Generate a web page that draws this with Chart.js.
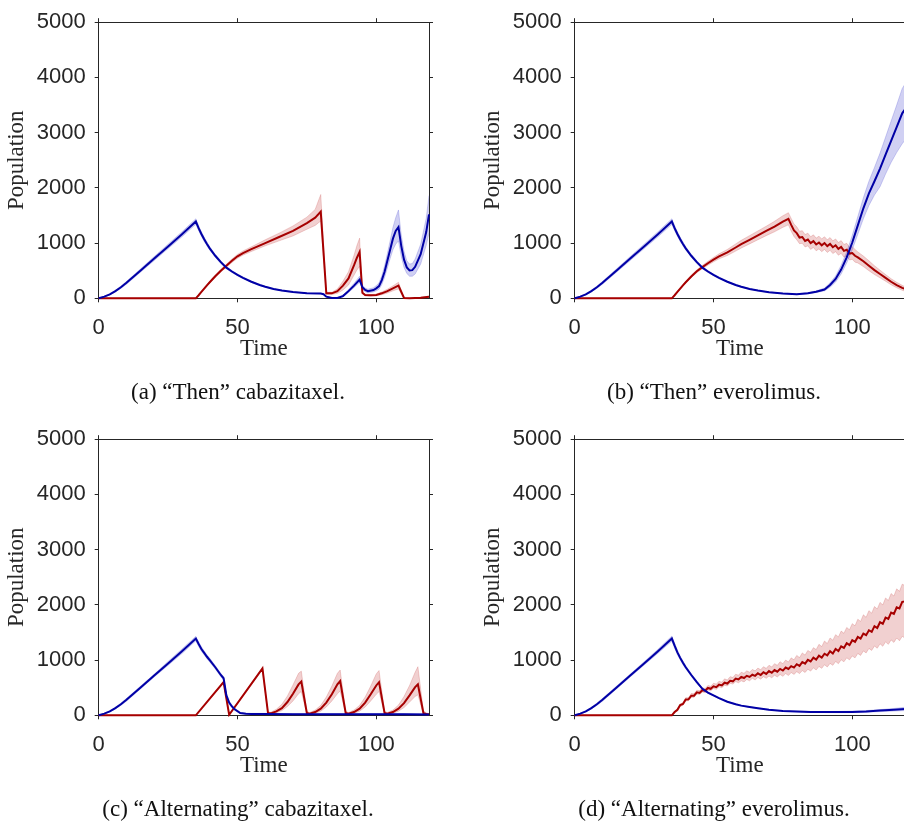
<!DOCTYPE html>
<html lang="en">
<head>
<meta charset="UTF-8">
<title>Population under cabazitaxel / everolimus schedules</title>
<script src="https://cdn.jsdelivr.net/npm/chart.js"></script>
<style>
  html, body { margin: 0; padding: 0; background: #fff; }
  body { width: 904px; height: 822px; overflow: hidden; position: relative; }
  canvas { position: absolute; }
</style>
</head>
<body>
<canvas id="panelA" width="476" height="417" style="left:0px;top:0px"></canvas>
<canvas id="panelB" width="476" height="417" style="left:476px;top:0px"></canvas>
<canvas id="panelC" width="476" height="417" style="left:0px;top:417px"></canvas>
<canvas id="panelD" width="476" height="417" style="left:476px;top:417px"></canvas>

<script>
// tick labels
const xTicks = [0, 50, 100];
const yTicks = [0, 1000, 2000, 3000, 4000, 5000];

const captions = [
  '(a) \u201CThen\u201D cabazitaxel.',
  '(b) \u201CThen\u201D everolimus.',
  '(c) \u201CAlternating\u201D cabazitaxel.',
  '(d) \u201CAlternating\u201D everolimus.'
];

// (a) "Then" cabazitaxel
const tBlueA = [0,2,4,6,8,10,15,20,25,30,35,36,37,38,39,40,42,44,46,48,50,52,55,58,60,63,66,70,75,80,81,82,84,86,88,90,92,94,95,96,97,99,100,101,102,103,104,105,106,107,108,109,110,111,112,113,114,116,118,119];
const blueA = [0,30,70,130,200,280,500,720,940,1160,1390,1270,1165,1070,985,905,770,655,555,485,425,370,300,240,210,170,140,112,92,85,75,30,5,5,40,130,230,340,200,150,130,150,180,220,330,480,680,880,1080,1220,1290,950,700,560,505,510,570,800,1200,1520];
const blueLoA = [0,25,60,115,180,255,470,685,900,1115,1340,1225,1125,1030,950,875,745,630,535,467,410,357,290,232,202,164,135,107,88,78,68,20,0,0,25,105,195,290,165,120,100,115,135,165,250,380,550,720,880,980,1040,760,560,450,400,400,440,620,960,1180];
const blueHiA = [0,35,80,145,220,305,530,755,980,1205,1440,1315,1205,1110,1020,935,795,680,575,503,440,383,310,248,218,176,145,117,96,92,82,40,15,15,60,160,270,400,240,185,165,190,230,280,410,590,810,1040,1280,1460,1600,1150,850,680,620,630,710,980,1450,1860];
const tRedA = [0,35,36,37,38,39,40,42,44,46,48,50,52,55,60,65,70,75,78,80,82,84,86,88,90,92,93,94,95,96,98,100,102,104,106,108,110,112,116,119];
const redA = [0,0,55,115,175,235,290,400,500,590,680,760,820,890,1000,1110,1220,1360,1460,1570,90,90,130,230,360,600,730,840,100,60,55,60,90,130,180,230,5,0,10,30];
const redLoA = [0,0,48,105,162,220,272,378,475,562,648,725,782,848,950,1040,1130,1250,1320,1400,70,70,90,150,240,420,510,580,80,45,40,45,65,95,135,170,0,0,5,20];
const redHiA = [0,0,62,125,188,250,308,422,525,618,712,795,858,932,1060,1180,1310,1470,1610,1880,110,110,170,310,480,780,950,1090,120,75,70,75,115,165,225,290,10,0,15,40];

// (b) "Then" everolimus
const tBlueB = [0,2,4,6,8,10,15,20,25,30,35,36,37,38,39,40,42,44,46,48,50,52,55,58,60,63,66,70,75,80,84,87,90,92,94,96,98,100,102,104,106,108,110,112,114,116,118,119];
const blueB = [0,30,70,130,200,280,500,720,940,1160,1390,1270,1165,1070,985,905,770,655,555,485,425,370,300,240,210,170,140,110,88,72,90,120,160,240,350,520,740,1010,1320,1630,1900,2120,2350,2600,2850,3100,3350,3420];
const blueLoB = [0,25,60,115,180,255,470,685,900,1115,1340,1225,1125,1030,950,875,745,630,535,467,410,357,290,232,202,164,135,105,84,65,80,105,135,200,295,440,640,880,1160,1440,1680,1870,2020,2250,2460,2640,2800,2860];
const blueHiB = [0,35,80,145,220,305,530,755,980,1205,1440,1315,1205,1110,1020,935,795,680,575,503,440,383,310,248,218,176,145,115,92,80,100,135,185,280,405,600,840,1140,1480,1820,2120,2370,2630,2920,3210,3500,3800,3880];
const tRedB = [0,35,36,37,38,39,40,42,44,46,48,50,52,55,58,60,63,66,69,72,75,77,78,79,80,81,82,83,84,85,86,87,88,89,90,91,92,93,94,95,96,97,98,99,100,101,102,104,106,108,110,112,114,116,118,119];
const redB = [0,0,55,115,175,235,290,395,490,565,635,700,760,830,920,980,1060,1140,1220,1300,1390,1440,1330,1230,1180,1100,1110,1040,1065,1000,1035,975,1010,960,1000,945,985,925,960,895,930,860,880,810,820,770,740,670,590,510,440,370,300,240,190,170];
const redLoB = [0,0,48,105,162,220,272,372,465,535,600,660,715,775,855,910,985,1060,1135,1205,1285,1330,1215,1120,1060,990,995,930,950,885,920,860,895,845,885,830,870,810,845,780,815,745,765,695,705,655,640,575,500,430,370,310,245,190,145,130];
const redHiB = [0,0,62,125,188,250,308,418,515,595,670,740,805,885,985,1050,1135,1220,1305,1395,1495,1550,1445,1345,1295,1215,1225,1155,1180,1115,1150,1090,1125,1075,1115,1060,1100,1040,1075,1010,1045,975,995,925,935,885,840,765,680,590,510,430,355,290,235,210];

// (c) "Alternating" cabazitaxel
const tBlueC = [0,2,4,6,8,10,15,20,25,30,35,36,37,38,39,40,42,44,45,46,47,48,49,51,53,55,60,70,80,90,100,110,119];
const blueC = [0,30,70,130,200,280,500,720,940,1160,1390,1290,1200,1130,1060,1000,870,730,670,360,230,160,110,40,30,25,25,20,20,20,20,20,15];
const blueLoC = [0,25,60,115,180,255,475,695,905,1120,1350,1250,1160,1095,1025,965,840,700,640,320,200,135,90,30,20,15,15,10,10,10,10,10,5];
const blueHiC = [0,35,80,145,220,305,525,745,975,1200,1430,1330,1240,1165,1095,1035,900,760,700,400,260,185,130,50,40,35,35,30,30,30,30,30,25];
const tRedC = [0,35,45,47,59,61,62,64,66,68,70,72,73,75,76,78,80,82,84,86,87,89,90,92,94,96,98,100,101,103,104,106,108,110,112,114,115,117,118,119];
const redC = [0,0,600,10,850,40,35,70,130,240,390,560,610,40,30,60,120,230,380,560,620,40,30,60,120,230,380,540,600,40,30,60,120,220,360,510,560,40,25,15];
const redLoC = [0,0,585,0,830,25,20,45,85,160,260,390,430,20,15,35,75,150,260,390,440,20,15,35,75,150,260,380,430,20,15,35,75,140,240,340,370,15,10,5];
const redHiC = [0,0,615,20,870,60,55,110,200,350,550,760,800,70,50,95,180,330,530,760,820,70,50,95,180,330,530,750,810,70,50,95,185,340,540,780,880,80,45,30];

// (d) "Alternating" everolimus
const tBlueD = [0,2,4,6,8,10,15,20,25,30,35,36,37,38,39,40,42,44,46,48,50,52,55,58,60,63,66,70,75,80,85,90,95,100,105,110,115,119];
const blueD = [0,30,70,130,200,280,500,720,940,1160,1390,1260,1140,1040,950,870,730,600,480,410,360,310,245,200,175,150,128,100,80,68,60,58,58,62,70,85,100,115];
const blueLoD = [0,25,60,115,180,255,475,695,910,1125,1345,1215,1100,1005,918,842,706,580,464,396,348,300,237,193,168,144,122,95,75,62,53,50,48,50,56,66,76,85];
const blueHiD = [0,35,80,145,220,305,525,745,970,1195,1435,1305,1180,1075,982,898,754,620,496,424,372,320,253,207,182,156,134,105,85,75,68,68,70,76,86,104,124,145];
const tRedD = [0,35,36,37,38,39,40,41,42,43,44,45,46,47,48,49,50,51,52,53,54,55,56,57,58,59,60,61,62,63,64,65,66,67,68,69,70,71,72,73,74,75,76,77,78,79,80,81,82,83,84,85,86,87,88,89,90,91,92,93,94,95,96,97,98,99,100,101,102,103,104,105,106,107,108,109,110,111,112,113,114,115,116,117,118,119];
const redD = [0,
  0,60,100,185,205,285,290,355,355,415,
  405,455,445,495,480,525,510,555,540,590,
  575,625,615,665,650,695,675,715,695,735,
  715,760,730,780,750,800,770,820,790,840,
  810,865,840,890,865,925,895,965,935,1005,
  975,1045,1010,1080,1045,1115,1085,1160,1120,1200,
  1165,1250,1220,1305,1270,1360,1330,1420,1390,1480,
  1450,1540,1510,1615,1580,1685,1655,1770,1745,1860,
  1835,1955,1935,2055,2060];
const redLoD = [0,
  0,45,75,160,180,260,265,325,325,385,
  375,420,410,460,445,485,470,515,500,545,
  530,580,565,610,590,625,605,650,625,670,
  640,685,655,700,670,710,680,725,695,740,
  705,755,720,775,740,790,755,810,775,835,
  800,860,820,885,850,915,875,940,905,975,
  935,1005,970,1040,1005,1075,1040,1120,1085,1165,
  1130,1210,1175,1255,1215,1295,1250,1330,1285,1365,
  1320,1400,1350,1430,1395];
const redHiD = [0,
  0,70,110,205,225,320,320,395,390,455,
  445,500,485,540,525,580,565,615,600,660,
  640,700,685,745,725,780,760,805,780,830,
  805,855,825,880,850,905,875,935,905,970,
  935,1000,965,1040,1005,1085,1045,1130,1090,1175,
  1140,1225,1190,1285,1245,1345,1300,1400,1360,1460,
  1420,1525,1485,1590,1550,1660,1620,1740,1700,1820,
  1775,1895,1850,1970,1925,2045,2000,2125,2080,2205,
  2160,2290,2245,2375,2350];

const INK = '#262626';
const BLUE = '#0000a6';
const RED = '#a60000';
const SANS = '"Liberation Sans", Arial, sans-serif';
const SERIF = '"Liberation Serif", "Times New Roman", serif';

const pts = (t, v) => t.map((x, i) => ({ x: x, y: v[i] }));
const fixedTicks = vals => scale => { scale.ticks = vals.map(v => ({ value: v })); };

// outward ticks on every side, like a boxed matlab axes
function frameAxis(pos, max, vals, size, extra) {
  const horiz = pos === 'top' || pos === 'bottom';
  return Object.assign({
    type: 'linear',
    position: pos,
    min: 0,
    max: max,
    afterBuildTicks: fixedTicks(vals),
    afterFit: s => { if (horiz) s.height = size; else s.width = size; },
    grid: { drawOnChartArea: false, color: INK, tickLength: 4, lineWidth: 1 },
    border: { color: INK, width: 1 },
    ticks: { display: false }
  }, extra);
}

function panel(id, caption, tB, b, bLo, bHi, tR, r, rLo, rHi) {
  new Chart(document.getElementById(id), {
    type: 'line',
    data: {
      datasets: [
        { data: pts(tB, b), borderColor: BLUE, borderWidth: 2 },
        { data: pts(tR, r), borderColor: RED, borderWidth: 2 },
        { data: pts(tB, bHi), borderColor: 'rgba(40,40,200,0.2)', borderWidth: 1,
          backgroundColor: 'rgba(40,40,200,0.22)', fill: '+1' },
        { data: pts(tB, bLo), borderColor: 'rgba(40,40,200,0.2)', borderWidth: 1 },
        { data: pts(tR, rHi), borderColor: 'rgba(190,40,40,0.2)', borderWidth: 1,
          backgroundColor: 'rgba(190,40,40,0.22)', fill: '+1' },
        { data: pts(tR, rLo), borderColor: 'rgba(190,40,40,0.2)', borderWidth: 1 }
      ]
    },
    options: {
      responsive: false,
      animation: false,
      events: [],
      layout: { padding: 0 },
      elements: { point: { radius: 0 }, line: { tension: 0, fill: false } },
      datasets: { line: { clip: false } },
      plugins: {
        legend: { display: false },
        tooltip: { enabled: false },
        title: {
          display: true,
          position: 'bottom',
          text: caption,
          color: '#111',
          font: { family: SERIF, size: 23, weight: 'normal' },
          padding: { top: 0, bottom: 10.7 }
        }
      },
      scales: {
        x: frameAxis('bottom', 119, xTicks, 80.4, {
          ticks: { display: true, color: INK, padding: 12, maxRotation: 0, autoSkip: false,
                   font: { family: SANS, size: 22 }, callback: v => String(v) },
          title: { display: true, text: 'Time', color: INK,
                   font: { family: SERIF, size: 23 }, padding: { top: 0, bottom: 15.7 } }
        }),
        y: frameAxis('left', 5000, yTicks, 98.7, {
          ticks: { display: true, color: INK, padding: 9, font: { family: SANS, size: 22 },
                   callback: v => String(v) },
          title: { display: true, text: 'Population', color: INK,
                   font: { family: SERIF, size: 23 }, padding: { top: 3.2, bottom: 0 } }
        }),
        x2: frameAxis('top', 119, xTicks, 20),
        y2: frameAxis('right', 5000, yTicks, 47)
      }
    }
  });
}

panel('panelA', captions[0], tBlueA, blueA, blueLoA, blueHiA, tRedA, redA, redLoA, redHiA);
panel('panelB', captions[1], tBlueB, blueB, blueLoB, blueHiB, tRedB, redB, redLoB, redHiB);
panel('panelC', captions[2], tBlueC, blueC, blueLoC, blueHiC, tRedC, redC, redLoC, redHiC);
panel('panelD', captions[3], tBlueD, blueD, blueLoD, blueHiD, tRedD, redD, redLoD, redHiD);
</script>
</body>
</html>
